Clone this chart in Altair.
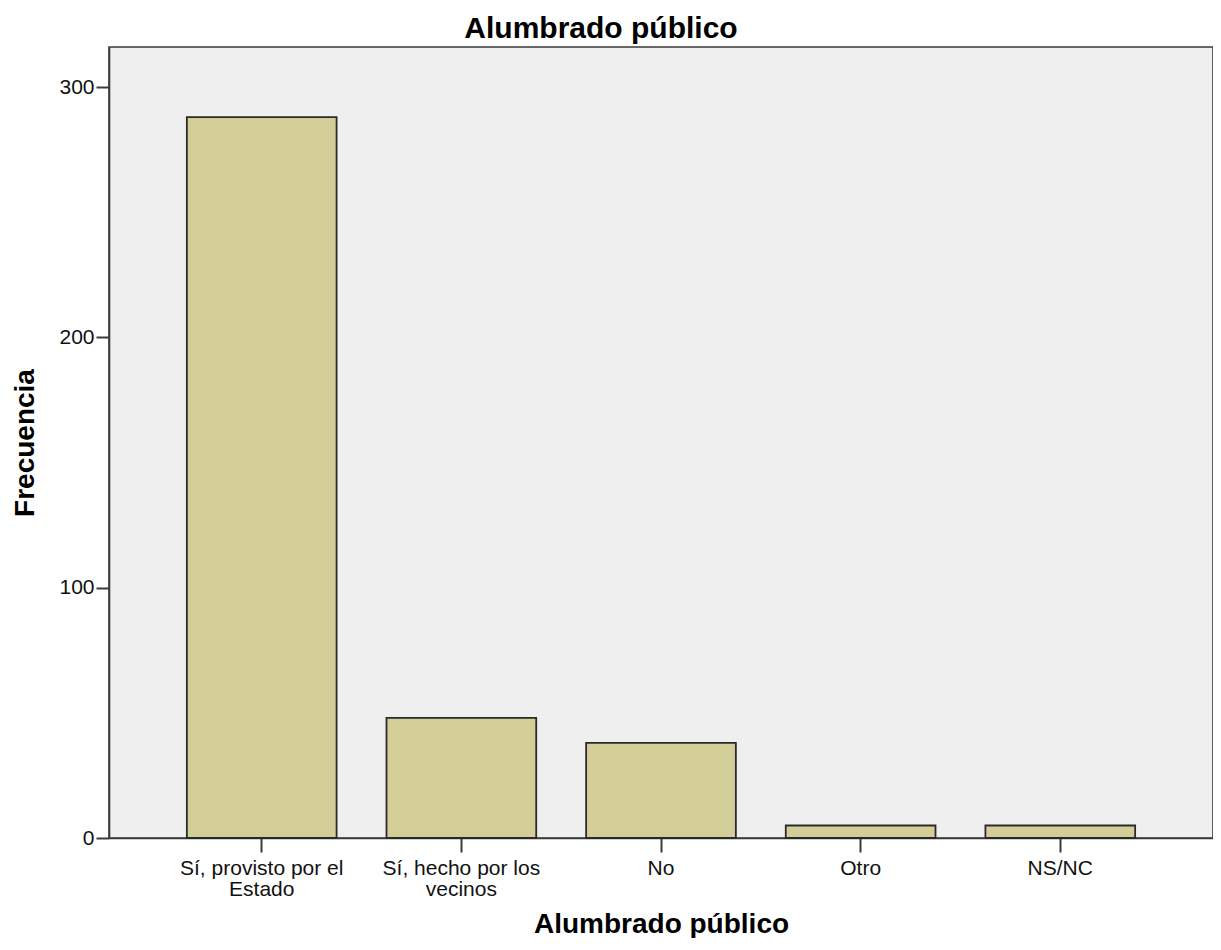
import altair as alt
import pandas as pd

categories = ["Sí, provisto por el Estado", "Sí, hecho por los vecinos", "No", "Otro", "NS/NC"]
frequencies = [288, 48, 38, 5, 5]
label_lines = [["Sí, provisto por el", "Estado"], ["Sí, hecho por los", "vecinos"], ["No"], ["Otro"], ["NS/NC"]]
y_ticks = [0, 100, 200, 300]

df = pd.DataFrame({"cat": categories, "freq": frequencies})

# build multi-line label expression
expr = "''"
for cat, lines in reversed(list(zip(categories, label_lines))):
    arr = "[" + ",".join("'" + l + "'" for l in lines) + "]"
    expr = f"datum.value === '{cat}' ? {arr} : ({expr})"

FONT = "Liberation Sans"
DARK = "#3a3a3a"

chart = alt.Chart(df).mark_bar(
    fill="#D3CE98", stroke="#2a2a2a", strokeWidth=1.8
).encode(
    x=alt.X("cat:N", sort=categories,
            scale=alt.Scale(paddingInner=0.25, paddingOuter=0.39),
            axis=alt.Axis(title="Alumbrado público", labelExpr=expr,
                          labelAngle=0, labelFontSize=21, labelFont=FONT,
                          labelColor="#111", labelLineHeight=21,
                          labelBaseline="top", labelPadding=5,
                          tickSize=14, tickWidth=2, tickColor=DARK,
                          domainColor=DARK, domainWidth=1.6,
                          titleFont=FONT, titleFontSize=28, titleFontWeight="bold",
                          titleColor="#000", titleX=552, titleY=94,
                          titleBaseline="alphabetic", titleAlign="center",
                          grid=False)),
    y=alt.Y("freq:Q", scale=alt.Scale(domain=[0, 316], nice=False),
            axis=alt.Axis(title="Frecuencia", values=y_ticks,
                          labelFontSize=21, labelFont=FONT, labelColor="#111",
                          labelPadding=2, tickSize=13, tickWidth=2, tickColor=DARK,
                          domainColor=DARK, domainWidth=1.6,
                          titleFont=FONT, titleFontSize=28, titleFontWeight="bold",
                          titleColor="#000", titleAngle=270, titleX=-76, titleY=395.5,
                          titleBaseline="alphabetic", titleAlign="center",
                          grid=False)),
).properties(
    width=1104, height=791,
    title=alt.TitleParams("Alumbrado público", font=FONT, fontSize=30,
                          fontWeight="bold", color="#000", anchor="middle",
                          dx=-60, offset=3),
    autosize=alt.AutoSizeParams(type="none"),
    padding={"left": 101, "top": 39, "right": 0, "bottom": 100},
).configure_view(
    fill="#EFEFEF", stroke=DARK, strokeWidth=1.6
)

chart.save("out.html", embed_options={"renderer": "svg", "actions": False})
